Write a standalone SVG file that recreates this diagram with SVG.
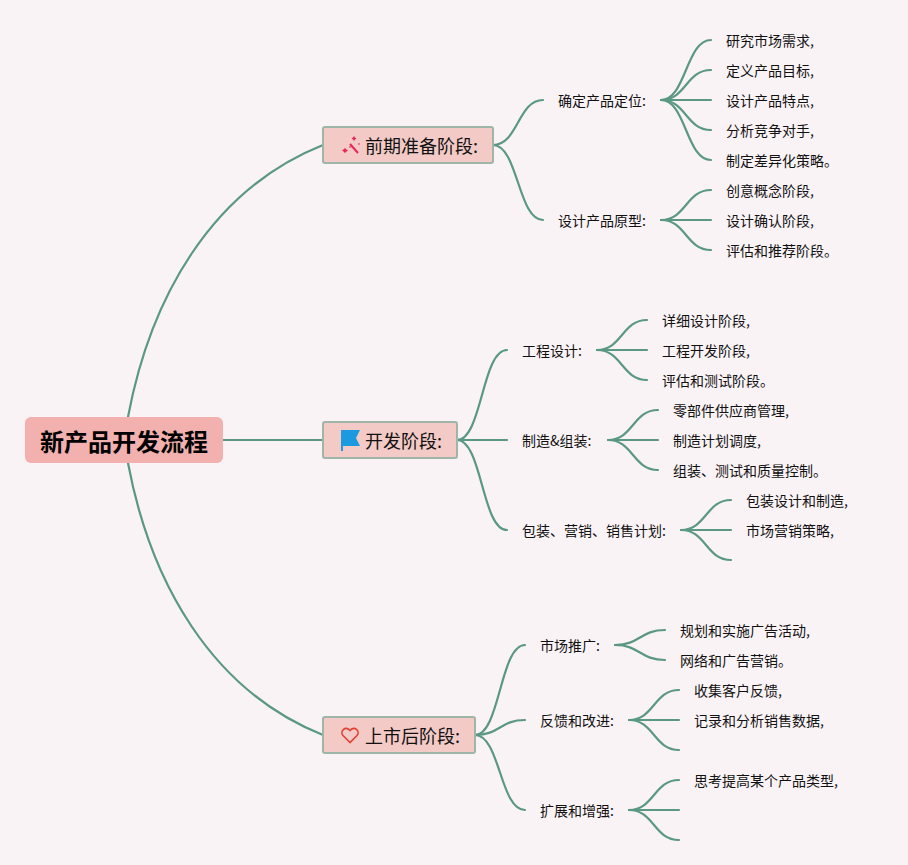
<svg xmlns="http://www.w3.org/2000/svg" width="908" height="865" viewBox="0 0 908 865">
<style>
text{font-family:"Noto Sans CJK SC","Liberation Sans",sans-serif;fill:#111}
.l{font-size:14px}
.m{font-size:18px}
.r{font-size:24px;font-weight:700;fill:#000;text-anchor:middle}
.b{fill:#f3cac6;stroke:#9fb5a8;stroke-width:2}
#connectors path{fill:none;stroke:#5a9884;stroke-width:2.2;stroke-linecap:round}
</style>
<rect width="908" height="865" fill="#faf3f6"/>
<g id="connectors">
<path d="M128 417C150 300 210 190 323 145"/>
<path d="M223 440H323"/>
<path d="M128 463C150 580 210 690 323 735"/>
<path d="M493 145C518 145 518 100 543 100"/>
<path d="M493 145C518 145 518 220 543 220"/>
<path d="M661 100C686 100 686 40 711 40"/>
<path d="M661 100C686 100 686 70 711 70"/>
<path d="M661 100H711"/>
<path d="M661 100C686 100 686 130 711 130"/>
<path d="M661 100C686 100 686 160 711 160"/>
<path d="M661 220C686 220 686 190 711 190"/>
<path d="M661 220H711"/>
<path d="M661 220C686 220 686 250 711 250"/>
<path d="M457 440C482 440 482 350 507 350"/>
<path d="M457 440H507"/>
<path d="M457 440C482 440 482 530 507 530"/>
<path d="M597 350C622 350 622 320 647 320"/>
<path d="M597 350H647"/>
<path d="M597 350C622 350 622 380 647 380"/>
<path d="M608 440C633 440 633 410 658 410"/>
<path d="M608 440H658"/>
<path d="M608 440C633 440 633 470 658 470"/>
<path d="M681 530C706 530 706 500 731 500"/>
<path d="M681 530H731"/>
<path d="M681 530C706 530 706 560 731 560"/>
<path d="M475 735C500 735 500 645 525 645"/>
<path d="M475 735C500 735 500 720 525 720"/>
<path d="M475 735C500 735 500 810 525 810"/>
<path d="M615 645C640 645 640 630 665 630"/>
<path d="M615 645C640 645 640 660 665 660"/>
<path d="M629 720C654 720 654 690 679 690"/>
<path d="M629 720H679"/>
<path d="M629 720C654 720 654 750 679 750"/>
<path d="M629 810C654 810 654 780 679 780"/>
<path d="M629 810H679"/>
<path d="M629 810C654 810 654 840 679 840"/>
</g>
<g id="root"><rect x="25" y="417" width="198" height="46" rx="6" fill="#f2b0ae"/><text class="r" x="124" y="451">新产品开发流程</text></g>
<g id="n1"><rect class="b" x="323" y="127" width="170" height="36" rx="2"/>
<path d="M350 144L358 153" fill="none" stroke="#e8265a" stroke-width="2"/><path d="M354 136l1 1.500 1.500 1-1.500 1-1 1.500-1-1.500-1.500-1 1.500-1zM345 148l1.500 1.500 1.500 1-1.500 1-1.500 1.500-1.500-1.500-1.500-1 1.500-1zM349 147l1-1 1 1-1 1zM358 144l1-1 1 1-1 1z" fill="#e8265a"/>
<text class="m" x="365" y="152.500">前期准备阶段:</text></g>
<g id="n2"><rect class="b" x="323" y="422" width="134" height="36" rx="2"/>
<path d="M341 430H360L356 438L360 446H343V451H341Z" fill="#1b9ae0"/>
<text class="m" x="365" y="447.500">开发阶段:</text></g>
<g id="n3"><rect class="b" x="323" y="717" width="152" height="36" rx="2"/>
<path d="M350 742.500L343 735.500C339.500 731.500 345 725.500 350 730.500C355 725.500 360.500 731.500 357 735.500Z" fill="none" stroke="#e0402f" stroke-width="1.600"/>
<text class="m" x="365" y="742.500">上市后阶段:</text></g>
<g id="a"><text class="l" x="558" y="106">确定产品定位:</text></g>
<g id="a1"><text class="l" x="726" y="46">研究市场需求,</text></g>
<g id="a2"><text class="l" x="726" y="76">定义产品目标,</text></g>
<g id="a3"><text class="l" x="726" y="106">设计产品特点,</text></g>
<g id="a4"><text class="l" x="726" y="136">分析竞争对手,</text></g>
<g id="a5"><text class="l" x="726" y="166">制定差异化策略。</text></g>
<g id="b"><text class="l" x="558" y="226">设计产品原型:</text></g>
<g id="b1"><text class="l" x="726" y="196">创意概念阶段,</text></g>
<g id="b2"><text class="l" x="726" y="226">设计确认阶段,</text></g>
<g id="b3"><text class="l" x="726" y="256">评估和推荐阶段。</text></g>
<g id="c"><text class="l" x="522" y="356">工程设计:</text></g>
<g id="c1"><text class="l" x="662" y="326">详细设计阶段,</text></g>
<g id="c2"><text class="l" x="662" y="356">工程开发阶段,</text></g>
<g id="c3"><text class="l" x="662" y="386">评估和测试阶段。</text></g>
<g id="d"><text class="l" x="522" y="446">制造&amp;组装:</text></g>
<g id="d1"><text class="l" x="673" y="416">零部件供应商管理,</text></g>
<g id="d2"><text class="l" x="673" y="446">制造计划调度,</text></g>
<g id="d3"><text class="l" x="673" y="476">组装、测试和质量控制。</text></g>
<g id="e"><text class="l" x="522" y="536">包装、营销、销售计划:</text></g>
<g id="e1"><text class="l" x="746" y="506">包装设计和制造,</text></g>
<g id="e2"><text class="l" x="746" y="536">市场营销策略,</text></g>
<g id="f"><text class="l" x="540" y="651">市场推广:</text></g>
<g id="f1"><text class="l" x="680" y="636">规划和实施广告活动,</text></g>
<g id="f2"><text class="l" x="680" y="666">网络和广告营销。</text></g>
<g id="g"><text class="l" x="540" y="726">反馈和改进:</text></g>
<g id="g1"><text class="l" x="694" y="696">收集客户反馈,</text></g>
<g id="g2"><text class="l" x="694" y="726">记录和分析销售数据,</text></g>
<g id="h"><text class="l" x="540" y="816">扩展和增强:</text></g>
<g id="h1"><text class="l" x="694" y="786">思考提高某个产品类型,</text></g>
</svg>
